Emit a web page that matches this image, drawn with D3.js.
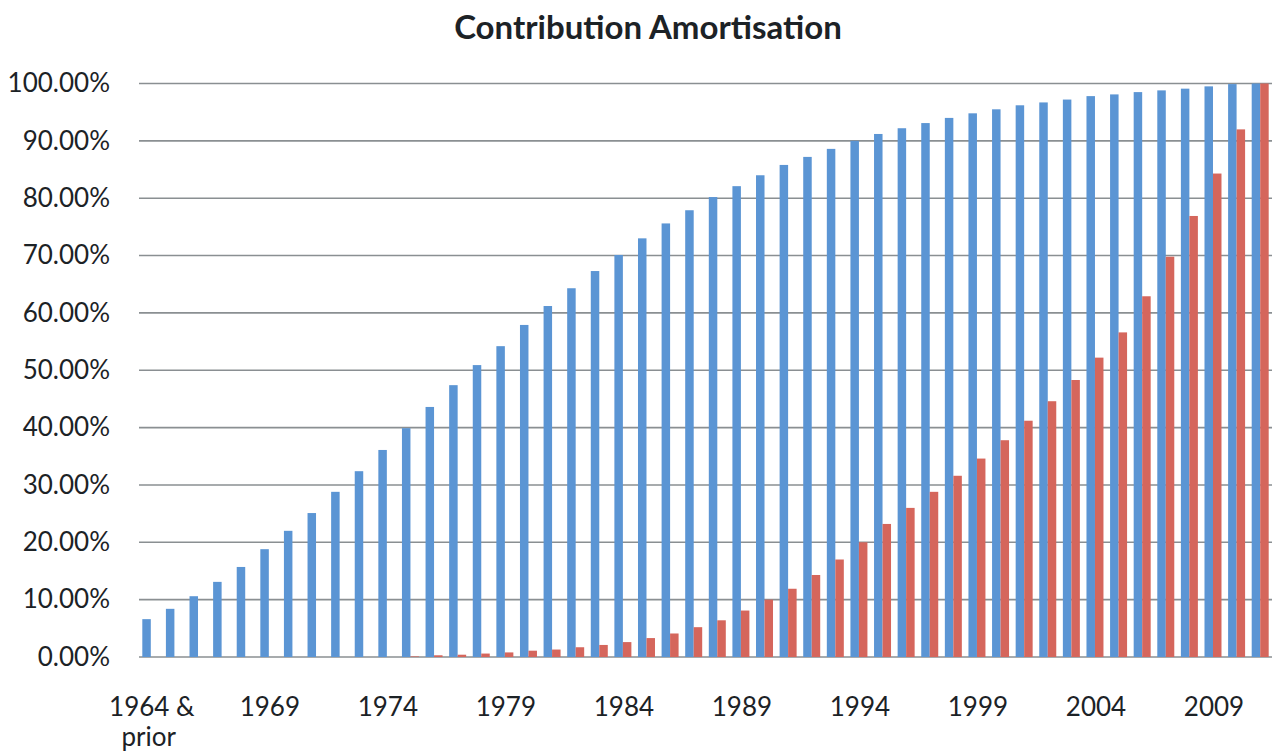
<!DOCTYPE html>
<html><head><meta charset="utf-8">
<script src="https://cdn.jsdelivr.net/npm/d3@7"></script>
<style>body{margin:0;background:#fff}svg{display:block}text{font-family:Lato,sans-serif;fill:#1c2226}</style>
</head><body><svg id="c" width="1275" height="754"></svg>
<script>
const title = "Contribution Amortisation";
const categories = ["1964 & prior"].concat(d3.range(1965, 2012).map(String));
const blueValues = [6.6,8.4,10.6,13.1,15.7,18.8,22.0,25.1,28.8,32.4,36.1,39.9,43.6,47.4,50.9,54.2,57.9,61.2,64.3,67.3,70.1,73.0,75.6,77.9,80.2,82.1,84.0,85.8,87.2,88.6,90.0,91.2,92.2,93.1,94.0,94.8,95.5,96.2,96.7,97.2,97.8,98.1,98.5,98.8,99.1,99.5,99.9,100];
const redValues = [0,0,0,0,0,0,0,0,0,0,0,0.1,0.3,0.4,0.6,0.8,1.1,1.3,1.7,2.1,2.6,3.3,4.1,5.2,6.4,8.1,10.0,11.9,14.3,17.0,20.0,23.2,26.0,28.8,31.6,34.6,37.8,41.2,44.6,48.3,52.2,56.6,62.9,69.8,76.9,84.3,92.0,100];
const yTicks = [0,10,20,30,40,50,60,70,80,90,100];
const xTickLabels = ["1964 & prior","1969","1974","1979","1984","1989","1994","1999","2004","2009"];
const series = ["blue","red"];
const colors = {blue:"#5b95d4", red:"#d5665c"};

const svg = d3.select("#c");
const m = {left:139, right:1272, top:83.5, bottom:657};
const x = d3.scaleBand().domain(categories).range([m.left, m.right]).paddingInner(0.28).paddingOuter(0.14);
const xs = d3.scaleBand().domain(series).range([0, x.bandwidth()]);
const y = d3.scaleLinear().domain([0,100]).range([m.bottom, m.top]);

svg.append("text").attr("x", 648).attr("y", 39).attr("text-anchor","middle")
  .style("font-weight","bold").style("font-size","33px").text(title);

// gridlines
svg.append("g").selectAll("line").data(yTicks).join("line")
  .attr("x1", m.left).attr("x2", m.right)
  .attr("y1", d=>y(d)).attr("y2", d=>y(d))
  .attr("stroke","#8a8f92").attr("stroke-width",1.6);

// y labels
const yAxis = d3.axisLeft(y).tickValues(yTicks).tickFormat(d=>d.toFixed(2)+"%").tickSize(0).tickPadding(29);
const ga = svg.append("g").attr("transform",`translate(${m.left},0)`).call(yAxis);
ga.select(".domain").remove();
ga.selectAll("text").style("font-size","26px").style("font-family","Lato,sans-serif").attr("fill","#1c2226");

// bars
const data = categories.map((c,i)=>({c, blue:blueValues[i], red:redValues[i]}));
const g = svg.append("g");
series.forEach(s=>{
  g.selectAll("rect."+s).data(data).join("rect").attr("class",s)
    .attr("x", d=>x(d.c)+xs(s)).attr("width", xs.bandwidth())
    .attr("y", d=>y(d[s])).attr("height", d=>y(0)-y(d[s]))
    .attr("fill", colors[s]);
});

// x labels
const xl = svg.append("g");
xTickLabels.forEach(lbl=>{
  const cx = x(lbl)+x.bandwidth()/2 + 1;
  const t = xl.append("text").attr("x", cx).attr("y", 716).attr("text-anchor","middle").style("font-size","26px");
  if (lbl.includes("&")) {
    t.append("tspan").attr("x", cx).text("1964 &");
    t.append("tspan").attr("x", cx-3).attr("dy", 30).text("prior");
  } else t.text(lbl);
});
</script></body></html>
